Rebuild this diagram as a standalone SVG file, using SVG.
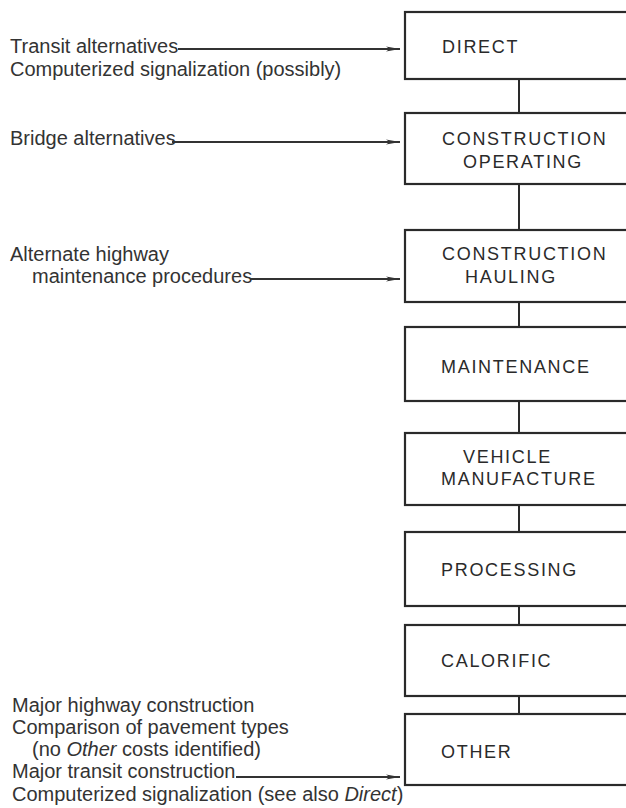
<svg xmlns="http://www.w3.org/2000/svg" width="626" height="808" viewBox="0 0 626 808">
<defs>
<style>
.box{fill:#fff;stroke:#2a2a2a;stroke-width:2.2}
.lbl{font-family:"Liberation Sans",Arial,sans-serif;font-size:18px;letter-spacing:1.7px;fill:#2a2a2a}
.note{font-family:"Liberation Sans",Arial,sans-serif;font-size:20px;fill:#333}
.con{stroke:#2a2a2a;stroke-width:2;fill:none}
.arr{stroke:#333;stroke-width:1.8;fill:none;marker-end:url(#ah)}
</style>
<marker id="ah" markerUnits="userSpaceOnUse" markerWidth="16" markerHeight="8" refX="14" refY="4" orient="auto">
<path d="M0,1.5 L14,4 L0,6.5 L3.5,4 Z" fill="#333"/>
</marker>
</defs>
<rect width="626" height="808" fill="#fff"/>
<g id="connectors">
<line class="con" x1="519" y1="79" x2="519" y2="113"/>
<line class="con" x1="519" y1="184" x2="519" y2="230"/>
<line class="con" x1="519" y1="302" x2="519" y2="327"/>
<line class="con" x1="519" y1="401" x2="519" y2="433"/>
<line class="con" x1="519" y1="505" x2="519" y2="532"/>
<line class="con" x1="519" y1="606" x2="519" y2="625"/>
<line class="con" x1="519" y1="696" x2="519" y2="714"/>
<line class="arr" x1="178" y1="49" x2="400" y2="49"/>
<line class="arr" x1="172" y1="142" x2="400" y2="142"/>
<line class="arr" x1="250" y1="279" x2="400" y2="279"/>
<line class="arr" x1="236" y1="777" x2="400" y2="777"/>
</g>
<g id="direct"><rect class="box" x="405" y="12" width="240" height="67"/><text class="lbl" x="442" y="53">DIRECT</text></g>
<g id="construction-operating"><rect class="box" x="405" y="113" width="240" height="71"/><text class="lbl" x="442" y="145">CONSTRUCTION</text><text class="lbl" x="463" y="168">OPERATING</text></g>
<g id="construction-hauling"><rect class="box" x="405" y="230" width="240" height="72"/><text class="lbl" x="442" y="260">CONSTRUCTION</text><text class="lbl" x="465" y="283">HAULING</text></g>
<g id="maintenance"><rect class="box" x="405" y="327" width="240" height="74"/><text class="lbl" x="441" y="373">MAINTENANCE</text></g>
<g id="vehicle-manufacture"><rect class="box" x="405" y="433" width="240" height="72"/><text class="lbl" x="463" y="463">VEHICLE</text><text class="lbl" x="441" y="485">MANUFACTURE</text></g>
<g id="processing"><rect class="box" x="405" y="532" width="240" height="74"/><text class="lbl" x="441" y="576">PROCESSING</text></g>
<g id="calorific"><rect class="box" x="405" y="625" width="240" height="71"/><text class="lbl" x="441" y="667">CALORIFIC</text></g>
<g id="other"><rect class="box" x="405" y="714" width="240" height="71"/><text class="lbl" x="441" y="758">OTHER</text></g>
<g id="notes-direct">
<text class="note" x="10" y="53">Transit alternatives</text>
<text class="note" x="10" y="76">Computerized signalization (possibly)</text>
</g>
<g id="notes-operating"><text class="note" x="10" y="145">Bridge alternatives</text></g>
<g id="notes-hauling">
<text class="note" x="10" y="261">Alternate highway</text>
<text class="note" x="32" y="283">maintenance procedures</text>
</g>
<g id="notes-other">
<text class="note" x="12" y="712">Major highway construction</text>
<text class="note" x="12" y="734">Comparison of pavement types</text>
<text class="note" x="32" y="756">(no <tspan font-style="italic">Other</tspan> costs identified)</text>
<text class="note" x="12" y="778">Major transit construction</text>
<text class="note" x="12" y="801">Computerized signalization (see also <tspan font-style="italic">Direct</tspan>)</text>
</g>
</svg>
